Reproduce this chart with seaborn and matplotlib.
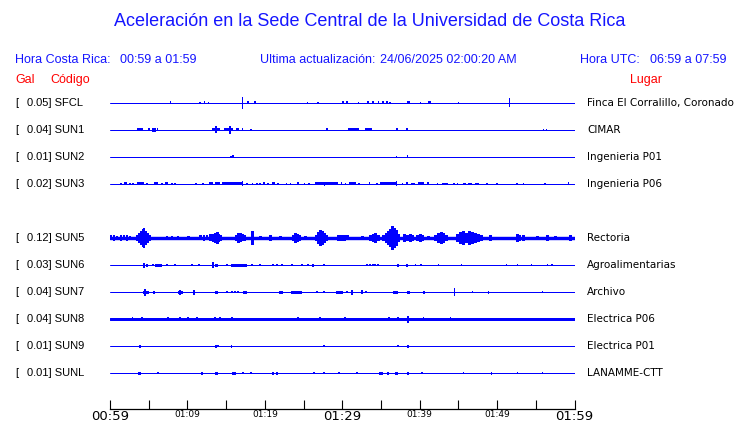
import matplotlib
matplotlib.use("Agg")
import matplotlib.pyplot as plt
import seaborn as sns
import pandas as pd

# ---------------- data ----------------
title = "Aceleración en la Sede Central de la Universidad de Costa Rica"
hora_cr = "00:59 a 01:59"
hora_utc = "06:59 a 07:59"
actualizacion = "24/06/2025 02:00:20 AM"

codes = ["SFCL", "SUN1", "SUN2", "SUN3", "SUN5", "SUN6", "SUN7", "SUN8", "SUN9", "SUNL"]
gal = [0.05, 0.04, 0.01, 0.02, 0.12, 0.03, 0.04, 0.04, 0.01, 0.01]
places = ["Finca El Corralillo, Coronado", "CIMAR", "Ingenieria P01", "Ingenieria P06",
          "Rectoria", "Agroalimentarias", "Archivo", "Electrica P06", "Electrica P01", "LANAMME-CTT"]

tick_minutes = [0, 5, 10, 15, 20, 25, 30, 35, 40, 45, 50, 55, 60]
tick_labels = ["00:59", "", "01:09", "", "01:19", "", "01:29", "", "01:39", "", "01:49", "", "01:59"]
big_ticks = ["00:59", "01:29", "01:59"]

# background noise half-amplitude of each trace (display units)
noise = [0.5, 0.5, 0.5, 0.5, 1.7, 0.5, 0.5, 1.5, 0.5, 0.5]

# bursts: (start minute, end minute, half amplitude in display units)
sfcl = [(7.8, 7.8, 1.5), (11.6, 11.6, 1), (12.2, 12.2, 1.5), (12.7, 12.7, 1), (17.1, 17.1, 6),
        (17.7, 18.0, 1.5), (18.6, 18.9, 1.5), (25.5, 25.5, 1), (26.9, 26.9, 1), (30.1, 30.1, 1.5),
        (30.6, 30.6, 1.5), (32.1, 32.1, 1), (33.2, 33.5, 1.5), (34.0, 34.0, 1.5), (34.7, 34.7, 1.5),
        (35.2, 35.4, 1.5), (35.7, 35.9, 1.5), (36.2, 36.2, 1), (38.3, 38.8, 1.5), (40.1, 40.1, 1),
        (41.1, 41.4, 1.5), (45.0, 45.0, 1), (51.6, 51.6, 4.5)]
sun1 = [(3.5, 4.3, 1.5), (5.0, 5.0, 1.5), (5.4, 5.9, 2), (6.1, 6.2, 1.5), (13.2, 14.2, 1.5),
        (13.7, 13.7, 3.5), (14.7, 15.9, 1.5), (15.5, 15.5, 4), (16.3, 16.6, 1.5), (17.1, 17.1, 1.5),
        (18.2, 18.2, 1), (27.9, 28.2, 1.5), (30.8, 32.1, 1.5), (33.0, 33.9, 1.5), (37.0, 37.2, 1.5),
        (38.4, 38.4, 1.5), (56.0, 56.0, 1), (56.4, 56.4, 1)]
sun2 = [(15.6, 15.6, 1), (15.9, 15.9, 1.5), (37.0, 37.0, 1), (38.4, 38.5, 1.5)]
sun3 = [(1.4, 1.4, 1), (1.8, 2.2, 1.5), (2.6, 2.6, 1), (3.0, 3.0, 1), (3.5, 4.4, 1.5), (4.8, 4.8, 1),
        (5.7, 6.2, 1.5), (6.7, 6.7, 1), (7.1, 7.5, 1.5), (8.0, 8.0, 1), (8.4, 8.4, 1), (11.1, 11.1, 1),
        (12.0, 12.0, 1), (12.8, 13.3, 1.5), (13.6, 14.2, 1.5), (14.5, 17.2, 1.5), (17.1, 17.1, 2.5),
        (17.7, 17.7, 1), (18.4, 18.4, 1), (19.0, 19.0, 1), (19.4, 19.4, 1), (19.8, 20.0, 1.5),
        (20.4, 20.4, 1), (20.9, 21.3, 1.5), (21.7, 21.7, 1), (22.8, 22.8, 1), (23.3, 23.3, 1),
        (24.2, 24.4, 1.5), (25.1, 25.1, 1), (25.7, 25.7, 1), (26.5, 29.5, 1.5), (27.7, 27.7, 2),
        (29.9, 29.9, 1.5), (30.4, 30.4, 1), (30.9, 31.8, 1.5), (32.2, 32.2, 1), (33.5, 33.5, 1.5),
        (34.5, 34.5, 1), (34.9, 36.9, 1.5), (37.0, 37.0, 2.5), (37.8, 37.8, 1), (38.4, 38.4, 1.5),
        (39.0, 39.0, 1), (39.2, 39.4, 1), (39.8, 40.5, 1.5), (41.0, 41.1, 1.5), (42.3, 42.3, 1),
        (42.9, 43.6, 1), (44.4, 44.4, 1), (44.9, 44.9, 1), (45.6, 46.0, 1), (46.3, 46.7, 1),
        (47.1, 47.6, 1), (48.7, 48.7, 1), (50.0, 50.0, 1), (52.6, 52.6, 1), (53.4, 53.4, 1),
        (56.2, 56.2, 1), (59.2, 59.2, 1.5)]
sun5 = [(0.13, 0.13, 2.5), (0.52, 0.52, 3), (0.91, 0.91, 2), (1.42, 1.42, 3), (1.81, 1.81, 2.5),
        (2.20, 2.20, 3), (2.59, 2.59, 2), (3.49, 3.49, 3), (3.75, 3.75, 5), (4.01, 4.01, 7),
        (4.27, 4.27, 9), (4.40, 4.40, 10), (4.65, 4.65, 7), (4.91, 4.91, 5), (5.17, 5.17, 3),
        (7.37, 7.37, 2), (8.02, 8.02, 2), (8.79, 8.79, 2), (10.09, 10.09, 2), (11.64, 11.64, 2.5),
        (12.15, 12.15, 3), (12.54, 12.54, 2.5), (12.93, 12.93, 3.5), (13.32, 13.32, 4),
        (13.58, 13.58, 5), (13.84, 13.84, 6), (14.09, 14.09, 4), (14.35, 14.35, 3), (16.29, 16.29, 3),
        (16.55, 16.55, 5), (16.81, 16.81, 4.5), (17.07, 17.07, 3.5), (17.33, 17.33, 3),
        (18.36, 18.36, 7), (19.40, 19.40, 2), (20.69, 20.69, 3), (21.98, 21.98, 2), (23.66, 23.66, 3),
        (23.92, 23.92, 5), (24.18, 24.18, 4), (24.44, 24.44, 3), (25.21, 25.21, 2), (26.64, 26.64, 3),
        (26.89, 26.89, 6), (27.15, 27.15, 8), (27.41, 27.41, 7), (27.67, 27.67, 5), (27.93, 27.93, 3),
        (29.48, 29.48, 3), (29.87, 29.87, 3), (30.26, 30.26, 3), (30.64, 30.64, 2.5),
        (32.58, 32.58, 2), (33.62, 33.62, 3), (34.01, 34.01, 4), (34.26, 34.26, 5), (34.65, 34.65, 3),
        (35.30, 35.30, 3), (35.69, 35.69, 5), (35.95, 35.95, 7), (36.20, 36.20, 9), (36.46, 36.46, 12),
        (36.72, 36.72, 10), (36.98, 36.98, 8), (37.24, 37.24, 4), (38.01, 38.01, 4), (38.40, 38.40, 3),
        (38.79, 38.79, 4), (39.05, 39.05, 3), (39.70, 39.70, 3), (40.08, 40.08, 4), (40.34, 40.34, 3),
        (41.12, 41.12, 2), (42.02, 42.02, 3), (42.41, 42.41, 5), (42.80, 42.80, 6), (43.06, 43.06, 5),
        (43.44, 43.44, 3), (44.87, 44.87, 4), (45.26, 45.26, 6), (45.64, 45.64, 7), (46.03, 46.03, 5),
        (46.42, 46.42, 7), (46.81, 46.81, 6), (47.19, 47.19, 5), (47.58, 47.58, 4), (47.97, 47.97, 3),
        (49.13, 49.13, 3), (52.63, 52.63, 4), (52.88, 52.88, 3), (53.40, 53.40, 3), (55.21, 55.21, 2),
        (56.50, 56.50, 3), (57.54, 57.54, 2), (59.48, 59.48, 3)]
sun6 = [(4.40, 4.40, 2.5), (4.78, 4.78, 1.5), (5.56, 5.56, 1), (5.82, 6.72, 1.5), (7.37, 7.37, 1),
        (8.40, 8.40, 1), (10.60, 10.60, 0.8), (11.51, 11.51, 1), (13.32, 13.32, 3), (13.58, 13.96, 1.5),
        (15.13, 15.13, 1), (15.65, 17.71, 1.5), (18.36, 18.36, 1), (19.40, 19.40, 1), (21.08, 21.08, 1),
        (21.59, 21.59, 1), (22.24, 22.24, 1), (23.53, 23.53, 1), (24.83, 24.83, 1), (25.60, 25.60, 1),
        (26.12, 26.38, 1.5), (27.67, 27.67, 0.8), (33.23, 33.23, 1), (33.62, 33.62, 1),
        (34.01, 34.01, 1), (34.26, 34.26, 1), (34.65, 34.65, 1), (37.11, 37.37, 1.5), (38.40, 38.40, 1.5),
        (39.44, 39.44, 1), (40.21, 40.21, 1), (42.41, 42.41, 1), (45.38, 45.38, 1), (51.20, 51.20, 1),
        (52.63, 52.63, 1), (54.44, 54.44, 1), (56.50, 56.50, 1), (56.90, 57.28, 1)]
sun7 = [(4.27, 5.04, 1.5), (4.53, 4.53, 3.5), (5.69, 5.69, 1.5), (8.79, 9.44, 1.5), (9.05, 9.05, 2.5),
        (10.86, 10.86, 2.5), (13.58, 13.96, 1.5), (15.13, 15.13, 1), (15.77, 15.77, 1), (16.16, 16.16, 1),
        (16.55, 16.55, 1), (17.20, 17.71, 1.5), (21.85, 22.37, 1.5), (23.40, 24.83, 1.5),
        (26.77, 26.77, 1), (27.67, 27.67, 1), (29.22, 30.13, 1.5), (30.64, 30.64, 1), (31.29, 31.29, 2.5),
        (32.58, 32.58, 2), (33.10, 33.10, 1), (36.59, 37.24, 1.5), (38.40, 38.79, 1.5),
        (40.47, 40.60, 1.5), (44.48, 44.48, 4), (46.81, 46.81, 1), (48.88, 48.88, 1.5), (55.86, 55.86, 1)]
sun8 = [(2.84, 2.97, 2), (4.14, 4.14, 2), (7.50, 7.50, 2), (9.05, 9.05, 2), (10.09, 10.09, 2),
        (11.25, 11.25, 2), (13.58, 13.58, 2), (14.22, 14.22, 2), (15.77, 15.77, 2), (24.31, 24.31, 2),
        (27.15, 27.15, 2), (30.39, 30.39, 2), (36.07, 36.07, 2), (37.24, 37.24, 2), (38.40, 38.53, 3.5),
        (40.47, 40.47, 2), (43.96, 43.96, 1.8)]
sun9 = [(3.75, 4.01, 1.5), (13.58, 13.84, 1.5), (13.96, 13.96, 1), (15.65, 15.77, 1.5),
        (27.67, 27.67, 1), (37.24, 37.24, 1), (38.40, 38.53, 1.5)]
sunl = [(3.62, 4.01, 1.5), (6.21, 6.21, 1), (11.90, 11.90, 1.5), (13.58, 13.96, 1.5),
        (15.77, 16.29, 1.5), (17.20, 17.20, 1), (18.23, 18.23, 1), (21.08, 21.08, 1.5),
        (21.59, 21.59, 1.5), (26.38, 26.38, 1), (27.67, 27.67, 1), (29.61, 29.61, 1), (31.94, 31.94, 1),
        (34.78, 35.30, 1.5), (35.82, 36.07, 1.5), (36.85, 37.24, 1.5), (38.40, 38.53, 1.5),
        (40.34, 40.34, 1), (45.64, 45.64, 1), (49.26, 49.26, 1.5), (52.63, 52.63, 1), (55.86, 55.86, 1)]
bursts = [sfcl, sun1, sun2, sun3, sun5, sun6, sun7, sun8, sun9, sunl]

# ---------------- layout ----------------
W, H = 740, 423
BLUE = "#0000ff"
TBLUE = "#1515ff"
RED = "#ff0000"
rows = [0, 1, 2, 3, 5, 6, 7, 8, 9, 10]     # SUN4 slot left empty
amp_scale = 1 / 27.0                        # display units -> row units
px_min = 60 / 464.0                         # one pixel in minutes
spike_px = [1.6, 1.6, 1.6, 1.6, 2.8, 1.6, 1.6, 1.6, 1.6, 1.6]

sns.set_theme(style="white")
plt.rcParams["font.family"] = ["Liberation Sans", "DejaVu Sans"]

fig = plt.figure(figsize=(W / 100, H / 100), dpi=100)
fig.patch.set_facecolor("white")
ax = fig.add_axes([110 / W, (H - 409) / H, (574.5 - 110) / W, (409 - 90) / H])
ax.set_facecolor("white")

base = pd.DataFrame({"t": [0, 60] * len(codes),
                     "row": [r for r in rows for _ in range(2)],
                     "code": [c for c in codes for _ in range(2)]})
for k, (code, r, nz) in enumerate(zip(codes, rows, noise)):
    sub = base[base["code"] == code]
    sns.lineplot(data=sub, x="t", y="row", ax=ax, color=BLUE,
                 linewidth=max(2 * nz, 1.0) * 0.72, estimator=None, legend=False)
    for t0, t1, a in bursts[k]:
        w = max(t1 - t0, spike_px[k] * px_min)
        ax.bar((t0 + t1) / 2, 2 * a * amp_scale, bottom=r - a * amp_scale, width=w,
               color=BLUE, linewidth=0, antialiased=False)

ax.set_xlim(0, 60)
ax.set_ylim((409 - 103) / 27.0, (90 - 103) / 27.0)
ax.set_xlabel("")
ax.set_ylabel("")
ax.set_yticks([])
for s in ["top", "left", "right"]:
    ax.spines[s].set_visible(False)
ax.spines["bottom"].set_color("black")
ax.spines["bottom"].set_linewidth(0.9)
ax.set_xticks(tick_minutes)
ax.set_xticklabels(tick_labels)
ax.tick_params(axis="x", direction="in", length=6.5, width=0.8, color="black", pad=1,
               bottom=True)
for lab in ax.get_xticklabels():
    big = lab.get_text() in big_ticks
    lab.set_fontsize(9.5 if big else 6.5)
    lab.set_family("DejaVu Sans")
    lab.set_color("black")


def ft(x, y, s, **kw):
    fig.text(x / W, 1 - y / H, s, va="center", **kw)


ft(370, 22, title, ha="center", fontsize=13, color=TBLUE)
ft(15, 60, "Hora Costa Rica:", fontsize=9, color=TBLUE)
ft(120, 60, hora_cr, fontsize=9, color=TBLUE)
ft(260, 60, "Ultima actualización:", fontsize=9, color=TBLUE)
ft(380, 60, actualizacion, fontsize=9, color=TBLUE)
ft(580, 60, "Hora UTC:", fontsize=9, color=TBLUE)
ft(650, 60, hora_utc, fontsize=9, color=TBLUE)
ft(15, 80, "Gal", fontsize=9, color=RED)
ft(50, 80, "Código", fontsize=9, color=RED)
ft(646, 80, "Lugar", ha="center", fontsize=9, color=RED)

for code, g, place, r in zip(codes, gal, places, rows):
    y = 103 + 27 * r
    ft(15, y, "[", fontsize=8, color="black")
    ft(27, y, f"{g:.2f}] {code}", fontsize=8, color="black")
    ft(587, y, place, fontsize=7.5, color="black", family="DejaVu Sans")

fig.savefig("out.png", dpi=100, facecolor="white")
